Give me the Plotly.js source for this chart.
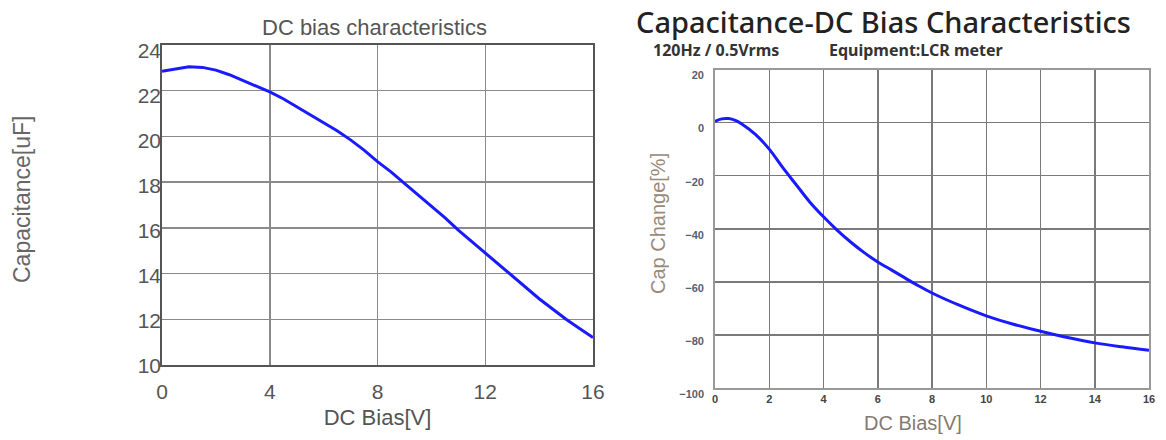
<!DOCTYPE html>
<html>
<head>
<meta charset="utf-8">
<script src="https://cdn.plot.ly/plotly-3.0.1.min.js"></script>
<style>html,body{margin:0;padding:0;background:#fff;}#chart{width:1166px;height:440px;}</style>
</head>
<body>
<div id="chart"></div>
<script>
// Left chart: DC bias characteristics (capacitance in uF)
const leftBias = [0,0.5,1,1.5,2,2.5,3,3.5,4,4.5,5,5.5,6,6.5,7,7.5,8,8.5,9,9.5,10,10.5,11,11.5,12,12.5,13,13.5,14,14.5,15,15.5,16];
const leftCap = [22.85,22.95,23.05,23.02,22.9,22.7,22.45,22.2,21.95,21.65,21.3,20.95,20.6,20.25,19.85,19.4,18.9,18.45,17.95,17.45,16.95,16.45,15.9,15.4,14.9,14.4,13.9,13.4,12.9,12.45,12.0,11.6,11.2];
const leftXTicks = [0,4,8,12,16];
const leftYTicks = [10,12,14,16,18,20,22,24];

// Right chart: Capacitance-DC Bias Characteristics (cap change in %)
const rightBias = [0,0.25,0.5,0.75,1,1.5,2,2.5,3,3.5,4,4.5,5,5.5,6,6.5,7,7.5,8,9,10,11,12,13,14,15,16];
const rightChange = [0.5,1.4,1.5,0.8,-0.6,-4.5,-10,-17,-23.5,-30,-35.5,-40.5,-45,-49,-52.5,-55.5,-58.5,-61.5,-64.2,-68.8,-72.8,-76,-78.6,-81,-83,-84.5,-85.8];
const rightXTicks = [0,2,4,6,8,10,12,14,16];
const rightYTicks = [20,0,-20,-40,-60,-80,-100];

const W = 1166, H = 440;
const px = x => x / W;
const py = y => 1 - y / H;

// plot-area frames (pixels)
const L = {x0: 162, x1: 593, y0: 45, y1: 365};
const R = {x0: 715, x1: 1149, y0: 69.5, y1: 388};
// the reference draws y tick labels slightly below their grid lines
const dropTop = 6, dropBottomL = 1, dropBottomR = 6;

const data = [
  {x: leftBias, y: leftCap, xaxis: 'x', yaxis: 'y', mode: 'lines', line: {color: '#1a1aff', width: 3}, hoverinfo: 'x+y'},
  {x: rightBias, y: rightChange, xaxis: 'x2', yaxis: 'y2', mode: 'lines', line: {color: '#1a1aff', width: 3, shape: 'spline'}, hoverinfo: 'x+y'},
  // empty traces so the label-only axes get their own subplots
  {x: [], y: [], xaxis: 'x3', yaxis: 'y3', mode: 'lines', hoverinfo: 'skip'},
  {x: [], y: [], xaxis: 'x4', yaxis: 'y4', mode: 'lines', hoverinfo: 'skip'}
];

const leftTickFont = {size: 21, color: '#555', family: 'Liberation Sans, Arial, sans-serif'};
const rightTickFont = {size: 11, color: '#444', family: 'Liberation Sans Narrow, Liberation Sans, sans-serif', weight: 'bold'};

const layout = {
  width: W, height: H,
  margin: {l: 0, r: 0, t: 0, b: 0},
  paper_bgcolor: '#ffffff', plot_bgcolor: 'rgba(0,0,0,0)',
  showlegend: false,
  font: {family: 'Liberation Sans, Arial, sans-serif', color: '#555'},
  xaxis: {
    domain: [px(L.x0), px(L.x1)], range: [0, 16], tickvals: leftXTicks,
    showgrid: true, gridcolor: '#8a8a8a', gridwidth: 1.5,
    showline: true, linecolor: '#555', linewidth: 2, mirror: true,
    zeroline: false, ticks: '', tickfont: leftTickFont, ticklabelstandoff: 7,
    anchor: 'y',
    title: {text: 'DC Bias[V]', font: {size: 22, color: '#555'}, standoff: 7}
  },
  yaxis: {
    domain: [py(L.y1), py(L.y0)], range: [10, 24], tickvals: leftYTicks,
    showgrid: true, gridcolor: '#8a8a8a', gridwidth: 1.5,
    showline: true, linecolor: '#555', linewidth: 2, mirror: true,
    zeroline: false, ticks: '', showticklabels: false,
    anchor: 'x'
  },
  xaxis3: {domain: [px(L.x0), px(L.x1)], range: [0, 16], visible: false, anchor: 'y3'},
  yaxis3: {
    domain: [py(L.y1 + dropBottomL), py(L.y0 + dropTop)], range: [10, 24], tickvals: leftYTicks,
    showgrid: false, showline: false, zeroline: false, ticks: '',
    tickfont: leftTickFont, ticklabelstandoff: 0, anchor: 'x3'
  },
  xaxis2: {
    domain: [px(R.x0), px(R.x1)], range: [0, 16], tickvals: rightXTicks,
    showgrid: true, gridcolor: '#7a7a7a', gridwidth: 1.5,
    showline: true, linecolor: '#999', linewidth: 2, mirror: true,
    zeroline: false, ticks: '', tickfont: rightTickFont,
    anchor: 'y2'
  },
  yaxis2: {
    domain: [py(R.y1), py(R.y0)], range: [-100, 20], tickvals: rightYTicks,
    showgrid: true, gridcolor: '#7a7a7a', gridwidth: 1.5,
    showline: true, linecolor: '#999', linewidth: 2, mirror: true,
    zeroline: false, ticks: '', showticklabels: false,
    anchor: 'x2'
  },
  xaxis4: {domain: [px(R.x0), px(R.x1)], range: [0, 16], visible: false, anchor: 'y4'},
  yaxis4: {
    domain: [py(R.y1 + dropBottomR), py(R.y0 + dropTop)], range: [-100, 20], tickvals: rightYTicks,
    showgrid: false, showline: false, zeroline: false, ticks: '',
    tickfont: {size: 11, color: '#556070', family: 'Liberation Sans Narrow, Liberation Sans, sans-serif', weight: 'bold'},
    ticklabelstandoff: 10, anchor: 'x4'
  },
  annotations: [
    {text: 'DC bias characteristics', xref: 'paper', yref: 'paper', x: px(374), y: py(27), xanchor: 'center', yanchor: 'middle', showarrow: false, font: {size: 22, color: '#555'}},
    {text: 'Capacitance[uF]', xref: 'paper', yref: 'paper', x: px(22), y: py(200), xanchor: 'center', yanchor: 'middle', textangle: -90, showarrow: false, font: {size: 23, color: '#666'}},
    {text: 'Capacitance-DC Bias Characteristics', xref: 'paper', yref: 'paper', x: px(634), y: 1, xanchor: 'left', yanchor: 'top', showarrow: false, font: {size: 29, color: '#222', family: 'Noto Sans, Open Sans, sans-serif', weight: 500}},
    {text: '120Hz / 0.5Vrms', xref: 'paper', yref: 'paper', x: px(651), y: py(50), xanchor: 'left', yanchor: 'middle', showarrow: false, font: {size: 16, color: '#333', family: 'Noto Sans, Open Sans, sans-serif', weight: 'bold'}},
    {text: 'Equipment:LCR meter', xref: 'paper', yref: 'paper', x: px(827), y: py(50), xanchor: 'left', yanchor: 'middle', showarrow: false, font: {size: 16, color: '#333', family: 'Noto Sans, Open Sans, sans-serif', weight: 'bold'}},
    {text: 'Cap Change[%]', xref: 'paper', yref: 'paper', x: px(658), y: py(224), xanchor: 'center', yanchor: 'middle', textangle: -90, showarrow: false, font: {size: 20, color: '#9a8a78'}},
    {text: 'DC Bias[V]', xref: 'paper', yref: 'paper', x: px(913), y: py(423), xanchor: 'center', yanchor: 'middle', showarrow: false, font: {size: 20, color: '#857a70'}}
  ]
};

Plotly.newPlot('chart', data, layout, {displayModeBar: false, staticPlot: true});
</script>
</body>
</html>
